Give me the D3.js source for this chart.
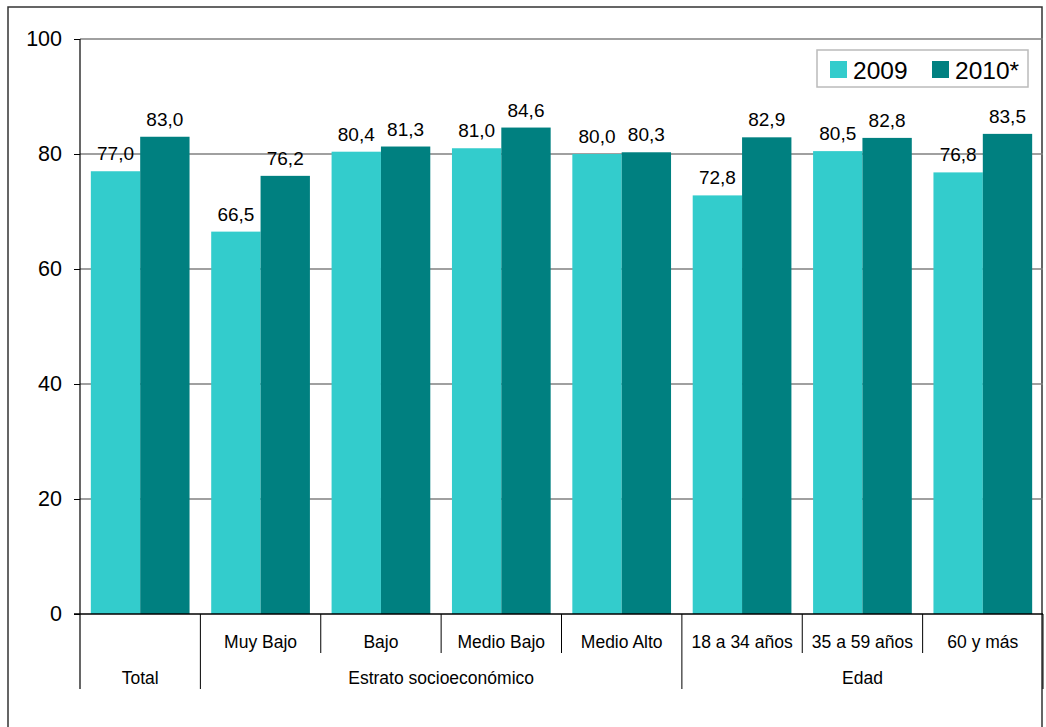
<!DOCTYPE html>
<html><head><meta charset="utf-8">
<script src="https://cdn.jsdelivr.net/npm/d3@7"></script>
<style>
html,body{margin:0;padding:0;background:#fff;}
svg{display:block;font-family:"Liberation Sans",Arial,sans-serif;}
</style></head>
<body>
<svg id="chart" width="1046" height="727"></svg>
<script>
const categories = ["Total","Muy Bajo","Bajo","Medio Bajo","Medio Alto","18 a 34 años","35 a 59 años","60 y más"];
const seriesNames = ["2009","2010*"];
const values2009 = [77.0,66.5,80.4,81.0,80.0,72.8,80.5,76.8];
const values2010 = [83.0,76.2,81.3,84.6,80.3,82.9,82.8,83.5];
const yTicks = [0,20,40,60,80,100];
const groups = [{label:"Total",from:0,to:0},{label:"Estrato socioeconómico",from:1,to:4},{label:"Edad",from:5,to:7}];
const colors = ["#33CCCC","#008080"];

const svg = d3.select("#chart");
const L=80, R=1043, T=39, B=614;

// outer border
svg.append("rect").attr("x",8).attr("y",7).attr("width",1034).attr("height",740)
  .attr("fill","none").attr("stroke","#333").attr("stroke-width",1.5);

const x = d3.scaleBand().domain(categories).range([L,R]).padding(0);
const bw = x.bandwidth();
const xs = d3.scaleBand().domain(seriesNames).range([bw*0.09, bw*0.91]).padding(0);
const y = d3.scaleLinear().domain([0,100]).range([B,T]);

// gridlines
svg.append("g").selectAll("line").data(yTicks.filter(d=>d>0)).join("line")
  .attr("x1",L).attr("x2",R).attr("y1",d=>y(d)).attr("y2",d=>y(d))
  .attr("stroke","#808080").attr("stroke-width",1.5);

// bars
const data = categories.map((c,i)=>({c, vals:[values2009[i],values2010[i]]}));
const g = svg.append("g");
data.forEach(d=>{
  d.vals.forEach((v,j)=>{
    g.append("rect").attr("x",x(d.c)+xs(seriesNames[j])).attr("width",xs.bandwidth())
      .attr("y",y(v)).attr("height",B-y(v)).attr("fill",colors[j]);
  });
});
// value labels
data.forEach(d=>{
  d.vals.forEach((v,j)=>{
    svg.append("text").attr("x",x(d.c)+xs(seriesNames[j])+xs.bandwidth()/2)
      .attr("y",y(v)-11).attr("text-anchor","middle").attr("font-size",19).attr("fill","#000")
      .text(v.toFixed(1).replace(".",","));
  });
});

// y axis
const yAxis = d3.axisLeft(y).tickValues(yTicks).tickSize(6).tickPadding(12);
const ya = svg.append("g").attr("transform",`translate(${L},0)`).call(yAxis);
ya.select(".domain").remove();
ya.selectAll("text").attr("font-size",21.5).attr("font-family","Liberation Sans, Arial, sans-serif").attr("fill","#000");
ya.selectAll("line").attr("stroke","#000");
svg.append("line").attr("x1",L).attr("x2",L).attr("y1",T).attr("y2",689).attr("stroke","#000").attr("stroke-width",1.2);
// zero line
svg.append("line").attr("x1",L-6).attr("x2",R).attr("y1",B).attr("y2",B).attr("stroke","#000").attr("stroke-width",1.5);

// category labels (row 1)
categories.forEach((c,i)=>{
  if(i>0){
    svg.append("text").attr("x",x(c)+bw/2).attr("y",648).attr("text-anchor","middle")
      .attr("font-size",17.5).text(c);
  }
});
// row 1 dividers
categories.forEach((c,i)=>{
  if(i>1 && i!==5){
    svg.append("line").attr("x1",x(c)).attr("x2",x(c)).attr("y1",B).attr("y2",653).attr("stroke","#000").attr("stroke-width",1);
  }
});
// group labels and dividers
groups.forEach(gr=>{
  const x0 = x(categories[gr.from]), x1 = x(categories[gr.to])+bw;
  svg.append("text").attr("x",(x0+x1)/2).attr("y",684).attr("text-anchor","middle")
    .attr("font-size",17.5).text(gr.label);
  svg.append("line").attr("x1",x1).attr("x2",x1).attr("y1",B).attr("y2",689).attr("stroke","#000").attr("stroke-width",1);
});

// legend
const lg = svg.append("g");
lg.append("rect").attr("x",817).attr("y",50).attr("width",211).attr("height",37)
  .attr("fill","#fff").attr("stroke","#bbb").attr("stroke-width",1.5);
const legX = [830,932];
seriesNames.forEach((s,j)=>{
  lg.append("rect").attr("x",legX[j]).attr("y",61).attr("width",17).attr("height",17).attr("fill",colors[j]);
  lg.append("text").attr("x",legX[j]+23).attr("y",78.5).attr("font-size",24.5).text(s);
});
</script>
</body></html>
